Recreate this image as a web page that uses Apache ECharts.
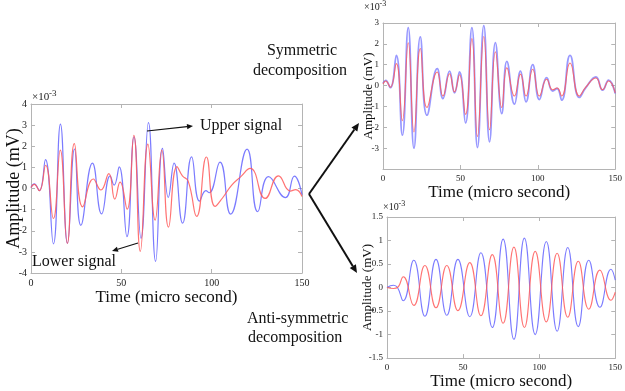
<!DOCTYPE html>
<html>
<head>
<meta charset="utf-8">
<script src="https://cdn.jsdelivr.net/npm/echarts@6/dist/echarts.min.js"></script>
<style>
  html, body { margin: 0; padding: 0; background: #fff; }
  #chart { width: 625px; height: 391px; }
</style>
</head>
<body>
<div id="chart"></div>
<script>
// time axis ticks (micro second) and amplitude ticks (x10^-3 mV)
const timeTicks = [0, 50, 100, 150]

// original signals: [time, amplitude] read at peaks / troughs
const upperSignal = [
  [0, 0.05], [1.8, 0.22], [4.6, -0.1], [8.0, 1.37], [12.4, -2.62], [16.3, 3.05], [20.2, -2.6],
  [24.1, 1.87], [27.6, -1.74], [34.0, 1.2], [39.1, -1.2], [43.8, 0.6], [46.0, 0.16], [48.8, 1.02],
  [53.1, -2.28], [57.0, 2.45], [60.9, -2.36], [65.0, 3.12], [69.0, -3.45], [72.8, 1.9], [76.0, -0.42],
  [79.2, 1.2], [83.9, -1.64], [88.9, 1.5], [93.3, -0.6], [96.8, -0.1], [98.6, -0.2], [104.6, 1.25],
  [110.5, -1.21], [119.6, 1.86], [125.5, -1.1], [131.5, 0.56], [140.8, -0.43], [145.8, 0.59], [150, -0.3]
]
const lowerSignal = [
  [0, 0.05], [1.8, 0.2], [4.6, -0.1], [8.1, 1.1], [12.4, -1.42], [16.2, 1.82], [20.1, -2.6],
  [24.0, 2.12], [28.6, -0.87], [34.5, 0.45], [38.7, -0.07], [43.1, 0.7], [46.4, -0.5], [49.3, 0.3],
  [53.2, -0.98], [56.9, 2.52], [60.5, -2.98], [64.7, 2.1], [68.7, -1.5], [72.4, 1.82], [76.1, -1.83],
  [80.8, 1.04], [83.8, 0.6], [87.0, 0.35], [91.7, -1.32], [97.1, 1.49], [101.9, -0.85], [106.0, -0.45],
  [111.0, 0.15], [116.0, 0.55], [121.3, 0.95], [129.6, -0.47], [137.0, 0.6], [143.5, -0.12],
  [146.5, -0.05], [150, -0.38]
]

// symmetric decomposition
const symUpper = [
  [0, 0.1], [1.7, 0.25], [4.7, -0.1], [8.6, 1.45], [12.5, -2.38], [16.3, 2.78], [20.0, -3.0],
  [24.1, 2.33], [28.4, -1.42], [35.0, 0.81], [38.7, -0.62], [43.0, 0.69], [46.2, -0.35], [49.4, 0.65],
  [53.3, -1.79], [57.4, 2.78], [61.0, -2.97], [65.1, 2.87], [68.8, -2.7], [72.6, 2.06], [76.7, -1.34],
  [80.0, 1.16], [84.9, -0.89], [88.8, 0.69], [92.4, -0.78], [96.7, 1.0], [101.0, -0.67], [105.7, 0.38],
  [109.6, -0.26], [112.4, -0.14], [115.4, -0.7], [120.8, 1.45], [126.8, -0.57], [131.0, -0.1],
  [137.5, 0.41], [141.8, -0.22], [145.7, 0.26], [150, -0.38]
]
const symLower = [
  [0, 0.08], [1.7, 0.22], [4.7, -0.08], [8.6, 1.05], [12.5, -1.68], [16.3, 2.05], [20.0, -2.22],
  [24.1, 1.78], [28.4, -1.05], [35.0, 0.65], [38.7, -0.5], [43.0, 0.57], [46.2, -0.3], [49.4, 0.52],
  [53.3, -1.38], [57.4, 2.25], [61.0, -2.45], [65.1, 2.35], [68.8, -2.12], [72.6, 1.62], [76.7, -1.05],
  [80.0, 0.85], [84.9, -0.5], [88.8, 0.55], [92.4, -0.5], [96.7, 0.78], [101.0, -0.5], [105.7, 0.3],
  [109.6, -0.2], [112.4, -0.12], [115.4, -0.5], [120.8, 1.08], [126.8, -0.5], [131.0, -0.08],
  [137.5, 0.36], [141.8, -0.2], [145.7, 0.22], [150, -0.35]
]

// anti-symmetric decomposition
const antiUpper = [
  [0, 0], [4.3, 0.05], [6.9, 0.0], [10.7, -0.28], [17.6, 0.58], [24.9, -0.61], [32.2, 0.6],
  [39.3, -0.59], [46.6, 0.6], [54.4, -0.62], [61.7, 0.74], [69.2, -0.85], [76.3, 1.03], [83.4, -1.1],
  [90.3, 1.05], [97.4, -1.0], [104.7, 0.98], [111.8, -0.93], [118.8, 0.85], [125.7, -0.83],
  [132.6, 0.58], [139.9, -0.42], [147.2, 0.39], [150, 0.16]
]
const antiLower = [
  [0, 0], [4.3, -0.02], [6.9, 0.0], [10.7, 0.23], [17.6, -0.38], [24.9, 0.47], [32.2, -0.43],
  [39.3, 0.47], [46.6, -0.49], [54.4, 0.53], [61.7, -0.6], [69.2, 0.7], [76.3, -0.76], [83.4, 0.86],
  [90.3, -0.85], [97.4, 0.77], [104.7, -0.73], [111.8, 0.73], [118.8, -0.63], [125.7, 0.56],
  [132.6, -0.46], [139.9, 0.37], [147.2, -0.27], [150, -0.1]
]

const SERIF = '"Liberation Serif", "DejaVu Serif", serif'
const FRAME = '#b4b4b4'
const BLUE = 'rgba(90, 90, 255, 0.8)'
const RED = 'rgba(255, 90, 90, 0.85)'

const chart = echarts.init(document.getElementById('chart'), null, { renderer: 'canvas' })

// 坐标轴：下/左带刻度标签，上/右只画镜像刻度，拼成一个框
const makeX = (gridIndex, labelSize, nameGap, mirror) => ({
  type: 'value',
  gridIndex,
  position: mirror ? 'top' : 'bottom',
  min: timeTicks[0],
  max: timeTicks[timeTicks.length - 1],
  interval: 50,
  name: mirror ? '' : 'Time (micro second)',
  nameLocation: 'middle',
  nameGap,
  nameTextStyle: { fontFamily: SERIF, fontSize: 17, color: '#111' },
  axisLine: { show: true, onZero: false, lineStyle: { color: FRAME, width: 1 } },
  axisTick: { show: true, inside: true, length: 4, lineStyle: { color: FRAME } },
  axisLabel: { show: !mirror, fontFamily: SERIF, fontSize: labelSize, color: '#222', margin: 5 },
  splitLine: { show: false }
})

const makeY = (gridIndex, min, max, interval, labelSize, nameSize, nameGap, mirror, hideMin) => ({
  type: 'value',
  gridIndex,
  position: mirror ? 'right' : 'left',
  min,
  max,
  interval,
  name: mirror ? '' : 'Amplitude (mV)',
  nameLocation: 'middle',
  nameGap,
  nameMoveOverlap: false,
  nameTextStyle: { fontFamily: SERIF, fontSize: nameSize, color: '#111' },
  axisLine: { show: true, onZero: false, lineStyle: { color: FRAME, width: 1 } },
  axisTick: { show: true, inside: true, length: 4, lineStyle: { color: FRAME } },
  axisLabel: {
    show: !mirror,
    fontFamily: SERIF,
    fontSize: labelSize,
    color: '#222',
    margin: 4,
    formatter: (v) => (hideMin && v === min ? '' : String(v))
  },
  splitLine: { show: false }
})

const makeLine = (data, axisIndex, color, width) => ({
  type: 'line',
  xAxisIndex: axisIndex,
  yAxisIndex: axisIndex,
  data,
  smooth: 0.5,
  symbol: 'none',
  lineStyle: { color, width },
  silent: true
})

// 箭头：线段 + 三角形箭头
const arrow = (x1, y1, x2, y2, width, head) => {
  const a = Math.atan2(y2 - y1, x2 - x1)
  const bx = x2 - head * Math.cos(a)
  const by = y2 - head * Math.sin(a)
  const hw = head * 0.45
  return [
    { type: 'line', shape: { x1, y1, x2: bx, y2: by }, style: { stroke: '#111', lineWidth: width }, z: 100 },
    {
      type: 'polygon',
      shape: {
        points: [
          [x2, y2],
          [bx + hw * Math.sin(a), by - hw * Math.cos(a)],
          [bx - hw * Math.sin(a), by + hw * Math.cos(a)]
        ]
      },
      style: { fill: '#111' },
      z: 100
    }
  ]
}

const label = (text, x, y, size, align) => ({
  type: 'text',
  z: 100,
  style: {
    text, x, y,
    font: size + 'px ' + SERIF,
    fill: '#111',
    textAlign: align || 'center',
    textVerticalAlign: 'middle',
    align: align || 'center',
    verticalAlign: 'middle'
  }
})

// ×10^-3 因子
const factor = (x, y, size) => [
  { type: 'text', z: 100, style: { text: '×10', x, y, font: size + 'px ' + SERIF, fill: '#222', textAlign: 'left', textVerticalAlign: 'middle', align: 'left', verticalAlign: 'middle' } },
  { type: 'text', z: 100, style: { text: '-3', x: x + size * 1.55, y: y - size * 0.3, font: (size - 2) + 'px ' + SERIF, fill: '#222', textAlign: 'left', textVerticalAlign: 'middle', align: 'left', verticalAlign: 'middle' } }
]

chart.setOption({
  backgroundColor: '#fff',
  animation: false,
  grid: [
    { left: 31, right: 323, top: 104, bottom: 118 },
    { left: 383, right: 9, top: 23, bottom: 222 },
    { left: 387, right: 6, top: 217, bottom: 28 }
  ],
  xAxis: [
    makeX(0, 10, 14, false), makeX(0, 10, 14, true),
    makeX(1, 9, 11, false), makeX(1, 9, 11, true),
    makeX(2, 9, 12, false), makeX(2, 9, 12, true)
  ],
  yAxis: [
    makeY(0, -4, 4, 1, 10, 18, 8, false, false), makeY(0, -4, 4, 1, 10, 18, 8, true, false),
    makeY(1, -4, 3, 1, 9, 13, 8, false, true), makeY(1, -4, 3, 1, 9, 13, 8, true, true),
    makeY(2, -1.5, 1.5, 0.5, 9, 13, 13, false, false), makeY(2, -1.5, 1.5, 0.5, 9, 13, 13, true, false)
  ],
  series: [
    makeLine(upperSignal, 0, BLUE, 1.2),
    makeLine(lowerSignal, 0, RED, 1.2),
    makeLine(symUpper, 2, 'rgba(110, 110, 255, 0.7)', 1.8),
    makeLine(symLower, 2, RED, 1.1),
    makeLine(antiUpper, 4, BLUE, 1.1),
    makeLine(antiLower, 4, RED, 1.1)
  ],
  graphic: [
    ...factor(32, 97, 11),
    ...factor(364, 7, 10),
    ...factor(383, 207, 10),
    label('Upper signal', 241, 126, 16),
    label('Lower signal', 74, 262, 16),
    label('Symmetric', 302, 51, 16),
    label('decomposition', 300, 71, 16),
    label('Anti-symmetric', 247, 319, 16, 'left'),
    label('decomposition', 248, 338, 16, 'left'),
    ...arrow(147, 131, 193, 126, 1.2, 6),
    ...arrow(138, 243, 112, 251, 1.2, 6),
    ...arrow(309, 194, 359, 123, 2, 8),
    ...arrow(309, 194, 357, 273, 2, 8)
  ]
})
</script>
</body>
</html>
